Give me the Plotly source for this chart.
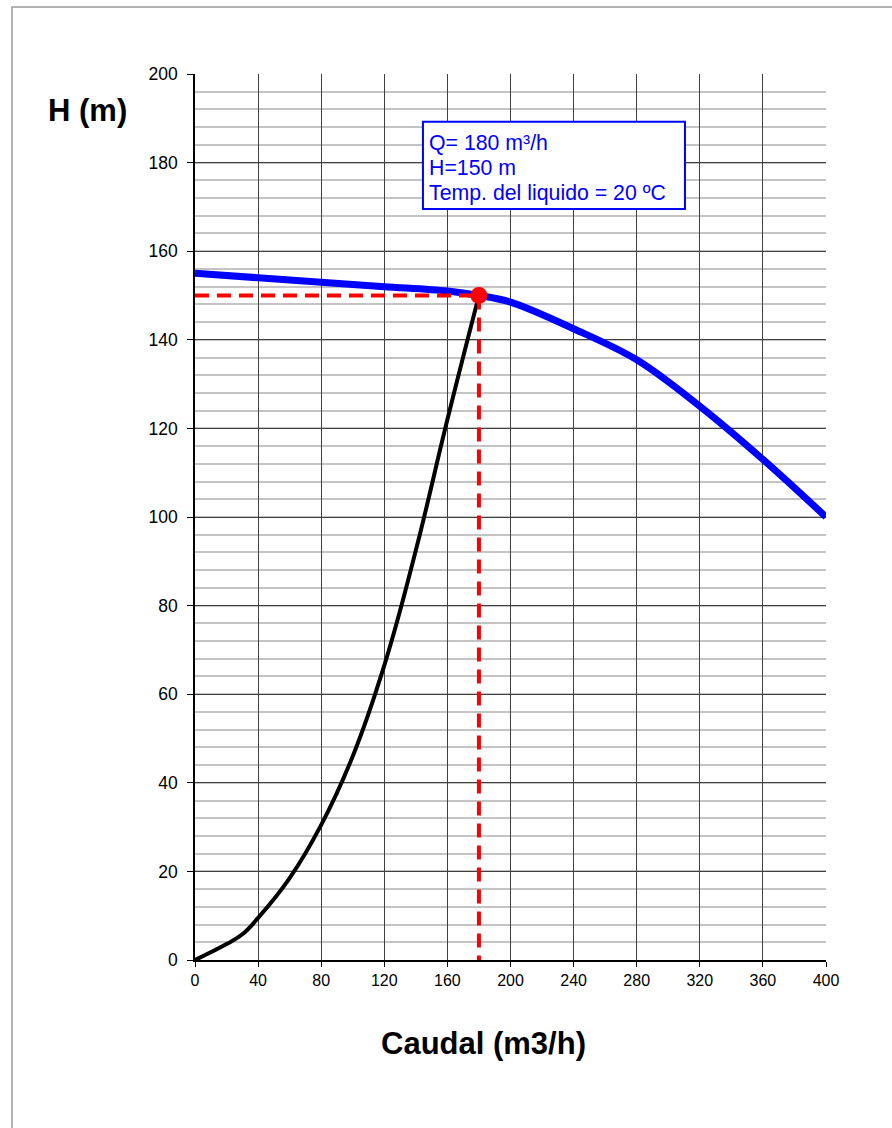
import plotly.graph_objects as go

# Pump curve (H vs Q)
pump_q = [0, 40, 80, 120, 160, 180, 200, 240, 280, 320, 360, 400]
pump_h = [155, 154, 153, 152, 151, 150, 148.5, 142.5, 135.5, 125, 113, 100]

# System curve
sys_q = [0, 20, 30, 40, 60, 80, 100, 120, 140, 160, 180]
sys_h = [0, 3.6, 5.8, 9.5, 18.5, 30.5, 46, 66.5, 92.5, 122, 150]

# Duty point
op_q = 180
op_h = 150
temp_c = 20

x_ticks = list(range(0, 401, 40))
y_ticks = list(range(0, 201, 20))

FONT = "Liberation Sans, Arial, sans-serif"

fig = go.Figure()

fig.add_trace(go.Scatter(
    x=pump_q, y=pump_h, mode="lines", line=dict(color="#0000ff", width=7, shape="spline"),
    showlegend=False, hoverinfo="skip"))

fig.add_trace(go.Scatter(
    x=sys_q, y=sys_h, mode="lines",
    line=dict(color="#000000", width=4, shape="spline", smoothing=1.2),
    showlegend=False, hoverinfo="skip"))

# Dashed guides to the duty point
fig.add_trace(go.Scatter(
    x=[0, op_q], y=[op_h, op_h], mode="lines",
    line=dict(color="#ff0000", width=4, dash="14px,8px"), showlegend=False, hoverinfo="skip"))
fig.add_trace(go.Scatter(
    x=[op_q, op_q], y=[op_h, 0], mode="lines",
    line=dict(color="#ff0000", width=4, dash="14px,8px"), showlegend=False, hoverinfo="skip"))

fig.add_trace(go.Scatter(
    x=[op_q], y=[op_h], mode="markers", marker=dict(color="#ff0000", size=17),
    showlegend=False, hoverinfo="skip"))

# Info box: white rectangle with a blue border and three text lines
fig.add_shape(type="rect", xref="x", yref="y",
              x0=144.5, x1=310.6, y0=169.5, y1=189.2,
              line=dict(color="#0000ff", width=2), fillcolor="#ffffff", layer="above")
info_lines = [f"Q= {op_q} m³/h", f"H={op_h} m", f"Temp. del liquido = {temp_c} ºC"]
info_y = [184.4, 178.8, 173.2]
for txt, yy in zip(info_lines, info_y):
    fig.add_annotation(
        x=147.0, y=yy, xref="x", yref="y", xanchor="left", yanchor="middle",
        text=txt, showarrow=False, align="left",
        font=dict(family=FONT, size=21.3, color="#0000ff"))

fig.add_annotation(
    x=-0.1696, y=0.959, xref="paper", yref="paper", text="<b>H (m)</b>",
    showarrow=False, xanchor="center", yanchor="middle",
    font=dict(family=FONT, size=31, color="#000000"))

fig.add_annotation(
    x=0.458, y=-0.0937, xref="paper", yref="paper", text="<b>Caudal (m3/h)</b>",
    showarrow=False, xanchor="center", yanchor="middle",
    font=dict(family=FONT, size=31, color="#000000"))

# Outer frame (top and left edges fall inside the page)
fig.add_shape(type="rect", xref="paper", yref="paper",
              x0=-0.29, x1=1.5, y0=-0.5, y1=1.0756,
              line=dict(color="#9a9a9a", width=1.5), layer="below")

fig.update_xaxes(
    range=[0, 400], tickvals=x_ticks, ticks="outside", ticklen=5, tickcolor="#000000",
    showgrid=True, gridcolor="#404040", gridwidth=1,
    showline=True, linecolor="#000000", linewidth=1.5, zeroline=False,
    tickfont=dict(family=FONT, size=16, color="#000000"))

fig.update_yaxes(
    range=[0, 200], tickvals=y_ticks, ticks="outside", ticklen=6, tickcolor="#000000",
    ticklabelstandoff=6,
    showgrid=True, gridcolor="#404040", gridwidth=1,
    minor=dict(dtick=4, showgrid=True, gridcolor="#c4c4c4", gridwidth=2, ticks=""),
    showline=True, linecolor="#000000", linewidth=1.5, zeroline=False,
    tickfont=dict(family=FONT, size=17.5, color="#000000"))

fig.update_layout(
    width=892, height=1128,
    margin=dict(l=195, r=66, t=74, b=168),
    paper_bgcolor="#ffffff", plot_bgcolor="#ffffff",
    font=dict(family=FONT))

fig.write_html("out.html")
